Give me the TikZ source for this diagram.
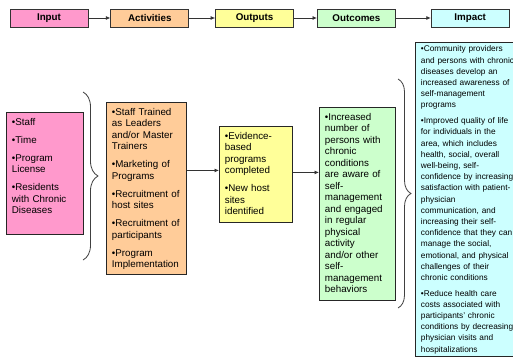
\documentclass[tikz,border=0pt]{standalone}
\usepackage{fontspec}
\setmainfont{Liberation Sans}
\usetikzlibrary{arrows.meta,positioning,decorations.pathreplacing}

\definecolor{inpink}{HTML}{FF99CC}
\definecolor{actorange}{HTML}{FFCC99}
\definecolor{outyellow}{HTML}{FFFF99}
\definecolor{ocgreen}{HTML}{CCFFCC}
\definecolor{impcyan}{HTML}{CCFFFF}

\begin{document}
\begin{tikzpicture}[
  x=1pt, y=-1pt,
  font=\fontsize{9.8}{11.5}\selectfont,
  head/.style={draw=black!80, line width=0.8pt, minimum width=78pt,
               minimum height=18pt, inner sep=0pt,
               font=\fontsize{9.8}{11.5}\selectfont\bfseries},
  box/.style={draw=black!85, line width=0.8pt, anchor=north west,
              align=left, inner xsep=5.5pt, inner ysep=4pt, text height=9pt},
  brc/.style={draw=black!75, line width=0.8pt, decorate,
              decoration={brace, amplitude=#1}},
  >={Latex[length=4.5pt,width=4pt]},
]
  \useasboundingbox[fill=white] (0,0) rectangle (513,356);
  \clip (0,0) rectangle (513,356);

  % header row
  \node[head, fill=inpink] (hin) at (49,18) {Input};
  \node[head, fill=actorange, right=22pt of hin] (hact) {Activities};
  \node[head, fill=outyellow, right=26pt of hact] (hout) {Outputs};
  \node[head, fill=ocgreen, right=23pt of hout] (hoc) {Outcomes};
  \node[head, fill=impcyan, right=35pt of hoc] (himp) {Impact};

  \draw[->, black!80, line width=0.8pt] (hin) -- (hact);
  \draw[->, black!80, line width=0.8pt] (hact) -- (hout);
  \draw[->, black!80, line width=0.8pt] (hout) -- (hoc);
  \draw[->, black!80, line width=0.8pt] (hoc) -- (himp);

  % body boxes
  \node[box, fill=inpink, text width=66pt, text depth=105pt] (in) at (6,112)
    {•Staff\\[6.5pt]•Time\\[6.5pt]•Program\\License\\[6.5pt]•Residents\\with Chronic\\Diseases};
  \node[box, fill=actorange, text width=69pt, text depth=155pt] (act) at (106,102)
    {•Staff Trained\\as Leaders\\and/or Master\\Trainers\\[6.5pt]•Marketing of\\Programs\\[6.5pt]%
     •Recruitment of\\host sites\\[6.5pt]•Recruitment of\\participants\\[6.5pt]•Program\\Implementation};
  \node[box, fill=outyellow, text width=62pt, text depth=79pt] (out) at (219,126)
    {•Evidence-\\based\\programs\\completed\\[6.5pt]•New host\\sites\\identified};
  \node[box, fill=ocgreen, text width=65pt, text depth=176pt] (oc) at (319,107)
    {•Increased\\number of\\persons with\\chronic\\conditions\\are aware of\\self-\\management\\%
     and engaged\\in regular\\physical\\activity\\and/or other\\self-\\management\\behaviors};
  \node[box, fill=impcyan, text width=100pt, text height=5.5pt, text depth=300pt,
        font=\fontsize{8.3}{11.2}\selectfont] (imp) at (415,42)
    {•Community providers\\and persons with chronic\\diseases develop an\\increased awareness of\\%
     self-management\\programs\\[4.5pt]•Improved quality of life\\for individuals in the\\%
     area, which includes\\health, social, overall\\well-being, self-\\confidence by increasing\\%
     satisfaction with patient-\\physician\\communication, and\\increasing their self-\\%
     confidence that they can\\manage the social,\\emotional, and physical\\challenges of their\\%
     chronic conditions\\[4.5pt]•Reduce health care\\costs associated with\\participants' chronic\\%
     conditions by decreasing\\physician visits and\\hospitalizations};

  \draw[->, black!80, line width=0.8pt] ([yshift=4pt]act.east |- out.west) -- ([yshift=4pt]out.west);
  \draw[->, black!80, line width=0.8pt] ([yshift=2pt]out.east) -- ([yshift=2pt]oc.west |- out.east);

  % braces
  \coordinate (b1top) at (83,92);
  \coordinate (b1bot) at (83,260);
  \coordinate (b2top) at (398,79);
  \coordinate (b2bot) at (398,308);
  \draw[brc=15] (b1top) -- (b1bot);
  \draw[brc=13] (b2top) -- (b2bot);
\end{tikzpicture}
\end{document}
